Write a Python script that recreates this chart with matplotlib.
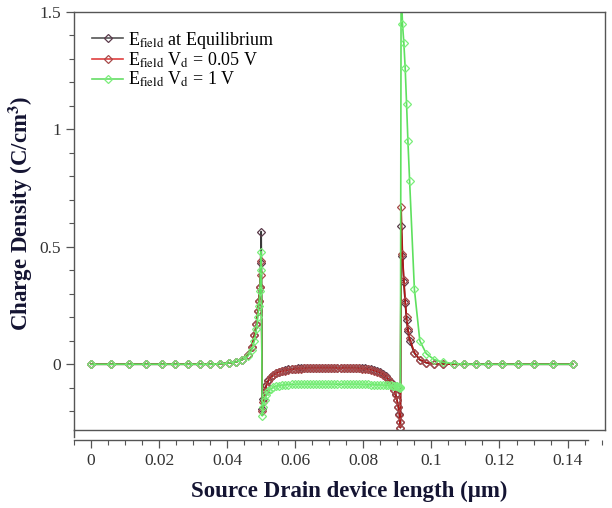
import matplotlib
matplotlib.use("Agg")
import matplotlib.pyplot as plt
from matplotlib.ticker import MultipleLocator, FixedLocator, FixedFormatter

plt.rcParams['font.family'] = ['Liberation Serif', 'DejaVu Serif']
plt.rcParams['mathtext.fontset'] = 'stix'

# ---------------- data ----------------
# source region (shared mesh)
x_src = [0, 0.0059, 0.0113, 0.0162, 0.0209, 0.0248, 0.0285, 0.0319, 0.0350, 0.0378,
         0.0404, 0.0427, 0.0445, 0.0461, 0.0472, 0.0480, 0.0486, 0.0490, 0.0493, 0.0496,
         0.0498, 0.0500]
eq_src = [0, 0, 0, 0, 0, 0, 0, 0, 0, 0.002, 0.005, 0.01, 0.02, 0.04, 0.075, 0.125,
          0.17, 0.225, 0.27, 0.33, 0.43, 0.565]
red_src = [0, 0, 0, 0, 0, 0, 0, 0, 0, 0.002, 0.005, 0.01, 0.02, 0.04, 0.075, 0.125,
           0.17, 0.225, 0.27, 0.33, 0.38, 0.44]
grn_src = [0, 0, 0, 0, 0, 0, 0, 0, 0, 0.002, 0.005, 0.01, 0.02, 0.035, 0.06, 0.10,
           0.15, 0.20, 0.25, 0.31, 0.40, 0.48]

# channel region (shared mesh)
x_ch = [0.0503, 0.0506, 0.0510, 0.0515, 0.0521, 0.0528, 0.0536, 0.0544, 0.0553, 0.0562,
        0.0571, 0.0580, 0.0589, 0.0598, 0.0607, 0.0616, 0.0625, 0.0634, 0.0643, 0.0652,
        0.0661, 0.0670, 0.0679, 0.0688, 0.0697, 0.0706, 0.0715, 0.0724, 0.0733, 0.0742,
        0.0751, 0.0760, 0.0769, 0.0778, 0.0787, 0.0796, 0.0805, 0.0814, 0.0823, 0.0832,
        0.0841, 0.0850, 0.0858, 0.0866, 0.0873, 0.0880, 0.0886, 0.0891, 0.0895, 0.0899,
        0.0903, 0.0906, 0.0908]
eq_ch = [-0.19, -0.15, -0.115, -0.088, -0.068, -0.054, -0.044, -0.037, -0.032, -0.028,
         -0.025, -0.022, -0.020, -0.019, -0.018, -0.017, -0.016, -0.016, -0.015, -0.015,
         -0.015, -0.014, -0.014, -0.014, -0.014, -0.014, -0.014, -0.014, -0.014, -0.014,
         -0.015, -0.015, -0.015, -0.016, -0.016, -0.017, -0.018, -0.020, -0.022, -0.025,
         -0.029, -0.035, -0.042, -0.051, -0.062, -0.076, -0.092, -0.108, -0.127, -0.152,
         -0.182, -0.212, -0.245]
red_ch = [-0.20, -0.16, -0.12, -0.092, -0.071, -0.056, -0.046, -0.039, -0.034, -0.030,
          -0.027, -0.024, -0.022, -0.021, -0.020, -0.019, -0.018, -0.018, -0.017, -0.017,
          -0.017, -0.016, -0.016, -0.016, -0.016, -0.016, -0.016, -0.016, -0.016, -0.016,
          -0.017, -0.017, -0.017, -0.018, -0.018, -0.019, -0.020, -0.022, -0.024, -0.027,
          -0.031, -0.037, -0.044, -0.053, -0.064, -0.078, -0.094, -0.110, -0.129, -0.154,
          -0.184, -0.214, -0.248]
grn_ch = [-0.22, -0.18, -0.153, -0.130, -0.115, -0.105, -0.098, -0.094, -0.091, -0.089,
          -0.088, -0.087, -0.086, -0.086, -0.085, -0.085, -0.085, -0.085, -0.085, -0.085,
          -0.085, -0.085, -0.085, -0.085, -0.085, -0.085, -0.085, -0.085, -0.085, -0.085,
          -0.085, -0.085, -0.085, -0.085, -0.085, -0.086, -0.086, -0.086, -0.087, -0.087,
          -0.088, -0.088, -0.089, -0.089, -0.090, -0.090, -0.091, -0.092, -0.093, -0.094,
          -0.095, -0.097, -0.098]

# drain region (shared mesh)
x_drn = [0.0909, 0.0911, 0.0915, 0.0919, 0.0923, 0.0927, 0.0931, 0.0936, 0.0950, 0.0966,
         0.0985, 0.1008, 0.1035, 0.1065, 0.1096, 0.1130, 0.1167, 0.1206, 0.1253, 0.1302,
         0.1356, 0.1415]
eq_drn = [-0.27, 0.59, 0.46, 0.35, 0.26, 0.19, 0.14, 0.10, 0.047, 0.018, 0.006, 0.002,
          0.001, 0, 0, 0, 0, 0, 0, 0, 0, 0]
red_drn = [-0.27, 0.67, 0.47, 0.36, 0.27, 0.20, 0.15, 0.11, 0.05, 0.02, 0.007, 0.002,
           0.001, 0, 0, 0, 0, 0, 0, 0, 0, 0]
grn_drn = [-0.10, 1.62, 1.45, 1.37, 1.26, 1.11, 0.95, 0.78, 0.32, 0.10, 0.045, 0.02,
           0.008, 0.003, 0.001, 0, 0, 0, 0, 0, 0, 0]

x_all = x_src + x_ch + x_drn
series = [
    (eq_src + eq_ch + eq_drn, r'E$_{\mathrm{field}}$ at Equilibrium', '#3a3a3a', '#5a3a4a'),
    (red_src + red_ch + red_drn, r'E$_{\mathrm{field}}$ V$_{\mathrm{d}}$ = 0.05 V', '#b01515', '#a84848'),
    (grn_src + grn_ch + grn_drn, r'E$_{\mathrm{field}}$ V$_{\mathrm{d}}$ = 1 V', '#5ee05e', '#7aee7a'),
]

xticks = [0, 0.02, 0.04, 0.06, 0.08, 0.1, 0.12, 0.14]
xticklabels = ['0', '0.02', '0.04', '0.06', '0.08', '0.1', '0.12', '0.14']
yticks = [0, 0.5, 1, 1.5]
yticklabels = ['0', '0.5', '1', '1.5']

# ---------------- figure ----------------
fig = plt.figure(figsize=(6.12, 5.08), dpi=100)
ax = fig.add_axes([74/612, 1-430/508, (605-74)/612, (430-12)/508])

legend_colors = ['#555555', '#e04040', '#66dd66']
for (y, label, lc, mc) in series:
    ax.plot(x_all, y, color=lc, lw=1.2, marker='D', ms=4.3, mfc='none',
            mec=mc, mew=0.9, label=label)

ax.set_xlim(-0.005, 0.151)
ax.set_ylim(-0.28, 1.5)

ax.xaxis.set_major_locator(FixedLocator(xticks))
ax.xaxis.set_major_formatter(FixedFormatter(xticklabels))
ax.xaxis.set_minor_locator(MultipleLocator(0.005))
ax.yaxis.set_major_locator(FixedLocator(yticks))
ax.yaxis.set_major_formatter(FixedFormatter(yticklabels))
ax.yaxis.set_minor_locator(MultipleLocator(0.1))

frame_c = '#555555'
for s in ax.spines.values():
    s.set_color(frame_c)
    s.set_linewidth(1.0)
ax.spines['bottom'].set_position(('outward', 7))
ax.spines['bottom'].set_bounds(-0.005, 0.146)
ax.plot([0, 1], [0, 0], transform=ax.transAxes, color=frame_c, lw=1.0, clip_on=False)
ax.plot([0, 0], [0, -7/418], transform=ax.transAxes, color=frame_c, lw=1.0, clip_on=False)

ax.tick_params(which='major', direction='out', length=6, width=0.9, color=frame_c,
               labelsize=12.5, labelcolor='#333333', top=False, right=False)
ax.tick_params(which='minor', direction='out', length=3.5, width=0.8, color=frame_c,
               top=False, right=False)

ax.set_xlabel('Source Drain device length (\u03bcm)', fontsize=16.5, fontweight='bold',
              color='#141432', va='top')
ax.xaxis.set_label_coords(0.518, -0.122)
ax.set_ylabel('Charge Density (C/cm$^{\\mathbf{3}}$)', fontsize=16.5, fontweight='bold',
              color='#141432')
ax.yaxis.set_label_coords(-0.074, 0.517)

leg = ax.legend(loc='upper left', frameon=False, fontsize=13, handlelength=1.7,
                handletextpad=0.3, labelspacing=0.0, borderaxespad=0.0,
                bbox_to_anchor=(0.021, 0.975))
for h, c in zip(leg.get_lines(), legend_colors):
    h.set_color(c)

fig.savefig('out.png', dpi=100)
